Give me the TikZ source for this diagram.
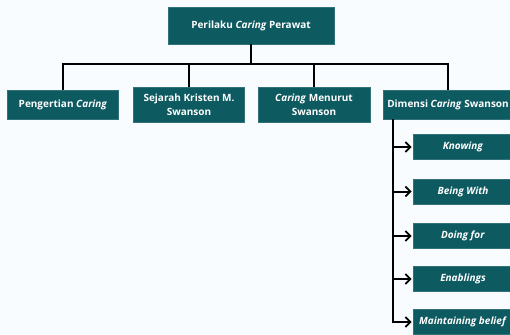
\documentclass[tikz,border=0pt]{standalone}
\usepackage{fontspec}
\setmainfont{Open Sans}
\usetikzlibrary{arrows.meta}
\definecolor{teal1}{HTML}{0D5A61}
\definecolor{bg}{HTML}{F8FCFE}
\begin{document}
\begin{tikzpicture}[x=1pt,y=-1pt,
  box/.style={fill=teal1,draw=teal1!85!white,line width=0.6pt,text=white,font=\bfseries\fontsize{10}{14}\selectfont,align=center,inner sep=0pt},
  conn/.style={line width=2pt,black},
  arr/.style={conn,-{Straight Barb[length=5pt,width=10pt,line width=1.8pt]}}]
\fill[bg] (0,0) rectangle (510,334);
\useasboundingbox (0,0) rectangle (510,334);
\node[box,minimum width=166pt,minimum height=37pt] (top) at (251,25.5) {Perilaku \textit{Caring} Perawat};
\node[box,minimum width=111pt,minimum height=29pt] (b1) at (63,105) {Pengertian \textit{Caring}};
\node[box,minimum width=111pt,minimum height=35pt] (b2) at (189,105) {Sejarah Kristen M.\\Swanson};
\node[box,minimum width=112pt,minimum height=35pt] (b3) at (314,105) {\textit{Caring} Menurut\\Swanson};
\node[box,minimum width=130pt,minimum height=29pt] (b4) at (448,104.5) {Dimensi \textit{Caring} Swanson};
\coordinate (bus) at (251,64);
\draw[conn] (top.south) -- (top.south |- bus);
\draw[conn] (b1.north) -- (b1.north |- bus) -- (b4.north |- bus) -- (b4.north);
\draw[conn] (b2.north) -- (b2.north |- bus);
\draw[conn] (b3.north) -- (b3.north |- bus);
\node[box,minimum width=100pt,minimum height=25pt] (d1) at (463,147) {\textit{Knowing}};
\node[box,minimum width=100pt,minimum height=25pt] (d2) at (463,191.5) {\textit{Being With}};
\node[box,minimum width=100pt,minimum height=25pt] (d3) at (463,236) {\textit{Doing for}};
\node[box,minimum width=100pt,minimum height=25pt] (d4) at (463,279) {\textit{Enablings}};
\node[box,minimum width=100pt,minimum height=25pt] (d5) at (463,322) {\textit{Maintaining belief}};
\coordinate (spine) at (393,119);
\draw[conn] (spine) -- (spine |- d5.west);
\foreach \d in {d1,d2,d3,d4,d5} \draw[arr] ([xshift=-1pt]spine |- \d.west) -- ([xshift=-1pt]\d.west);
\end{tikzpicture}
\end{document}
